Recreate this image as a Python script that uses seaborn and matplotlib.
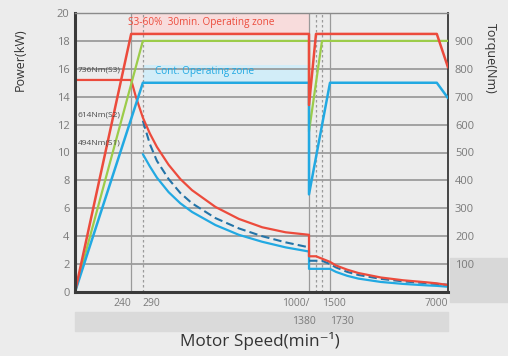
"""Spindle motor power / torque characteristic chart."""
import numpy as np
import matplotlib
matplotlib.use("Agg")
import matplotlib.pyplot as plt
import matplotlib.transforms as mtransforms
from matplotlib.patches import Rectangle
import seaborn as sns

# ---- data ----
speed_p3 = [0, 240, 1000, 1000, 1380, 6500, 7000]
power_s3 = [0, 18.5, 18.5, 13.4, 18.5, 18.5, 16.1]
speed_p2 = [0, 290, 1000, 1000, 1500, 7000]
power_s2 = [0, 18.0, 18.0, 11.5, 18.0, 18.0]
speed_p1 = [0, 290, 1000, 1000, 1730, 6500, 7000]
power_s1 = [0, 15.0, 15.0, 7.0, 15.0, 15.0, 13.9]

speed_t3 = [0, 240, 260, 290, 320, 350, 400, 450, 500, 600, 700, 800, 900, 1000,
            1000, 1380, 1730, 2000, 2500, 3000, 4000, 5000, 6000, 6500, 7000]
torque_s3 = [760, 760, 700, 625, 568, 520, 456, 405, 365, 305, 262, 232, 214, 205,
             128, 128, 108, 95, 80, 68, 52, 42, 35, 31, 25]
speed_t2 = [290, 320, 350, 400, 450, 500, 600, 700, 800, 900, 1000,
            1000, 1500, 1730, 2000, 2500, 3000, 4000, 5000, 6000, 7000]
torque_s2 = [614, 530, 470, 405, 355, 318, 265, 228, 200, 178, 160,
             112, 112, 100, 88, 72, 61, 47, 38, 32, 26]
speed_t1 = [290, 320, 350, 400, 450, 500, 600, 700, 800, 900, 1000,
            1000, 1730, 2000, 2500, 3000, 4000, 5000, 6000, 6500, 7000]
torque_s1 = [494, 450, 410, 358, 318, 287, 240, 205, 180, 160, 145,
             83, 83, 72, 58, 48, 36, 29, 24, 22, 19]

speed_marks = [240, 290, 1000, 1380, 1500, 1730]
xtick_vals = [240, 290, 1000, 1500, 7000]
xtick_text = ["240", "290", "1000/", "1500", "7000"]
xtick_ha = ["right", "left", "right", "left", "right"]
lower_ticks = [1380, 1730]
lower_text = ["1380", "1730"]
lower_ha = ["right", "left"]
torque_notes = ["736Nm(S3)", "614Nm(S2)", "494Nm(S1)"]
note_levels = [15.9, 12.7, 10.7]

RED = "#ec4b3c"
GREEN = "#9ccc4a"
BLUE = "#22a9e2"
DARKBLUE = "#2374a8"
TICK = "#7a7a7a"

# piecewise axis: speed -> horizontal position
KNOT_SPEED = [-1000, 0, 1000, 1380, 1500, 1730, 7000, 20000]
KNOT_POS = [-234, 0, 234, 241, 247, 255, 373, 663]


def fwd(v):
    return np.interp(v, KNOT_SPEED, KNOT_POS)


def inv(p):
    return np.interp(p, KNOT_POS, KNOT_SPEED)


sns.set_style("white")
plt.rcParams["font.family"] = ["Open Sans", "DejaVu Sans"]

fig = plt.figure(figsize=(5.08, 3.56), dpi=100, facecolor="#ececec")
fig.patches.append(Rectangle((75 / 508, 1 - 331 / 356), 373 / 508, 19 / 356,
                             transform=fig.transFigure, color="#dadada", zorder=-1))
fig.patches.append(Rectangle((450 / 508, 1 - 302 / 356), 58 / 508, 44 / 356,
                             transform=fig.transFigure, color="#d8d8d8", zorder=-1))

ax = fig.add_axes([75 / 508, 1 - 292 / 356, 373 / 508, 279 / 356])
ax.set_xscale("function", functions=(fwd, inv))
ax.set_xlim(0, 7000)
ax.set_ylim(0, 20)
ax2 = ax.twinx()
ax2.set_ylim(0, 1000)

# torque axis sits below, power axis on top
ax2.set_zorder(1)
ax.set_zorder(2)
ax.patch.set_visible(False)
ax2.patch.set_facecolor("#f2f0f0")

ax2.set_yticks(range(0, 1001, 100))
ax2.yaxis.grid(True, color="#8e8e8e", lw=1.1)
ax2.set_axisbelow(True)

# operating zone bands
ax2.fill_between([240, 1000], 930, 995, color="#f8dcdc", lw=0, zorder=0.5)
ax2.fill_between([290, 1000], 757, 815, color="#d2edf8", lw=0, zorder=0.5)

for s in speed_marks:
    dotted = s in (290, 1380, 1500)
    ax2.axvline(s, color="#9a9a9a", lw=0.9, ls=(0, (2, 2)) if dotted else "-", zorder=0.8)

# torque curves
sns.lineplot(x=speed_t1, y=torque_s1, ax=ax2, estimator=None, sort=False, color=BLUE, lw=1.6)
sns.lineplot(x=speed_t2, y=torque_s2, ax=ax2, estimator=None, sort=False, color=DARKBLUE,
             lw=1.5, linestyle=(0, (4, 2)))
sns.lineplot(x=speed_t3, y=torque_s3, ax=ax2, estimator=None, sort=False, color=RED, lw=1.6)

# power curves
sns.lineplot(x=speed_p2, y=power_s2, ax=ax, estimator=None, sort=False, color=GREEN, lw=1.6)
sns.lineplot(x=speed_p1, y=power_s1, ax=ax, estimator=None, sort=False, color=BLUE, lw=1.8)
sns.lineplot(x=speed_p3, y=power_s3, ax=ax, estimator=None, sort=False, color=RED, lw=1.8)

ax.text(227, 19.35, "S3-60%  30min. Operating zone", color=RED, fontsize=7.2, va="center")
ax.text(343, 15.8, "Cont. Operating zone", color=BLUE, fontsize=7.2, va="center")
for note, yv in zip(torque_notes, note_levels):
    ax.text(12, yv, note, color="#4a4a4a", fontsize=6, va="center")

# ticks
ax.set_yticks(range(0, 21, 2))
ax.tick_params(axis="y", length=0, pad=4, labelsize=8, labelcolor=TICK)
ax2.set_yticks(range(100, 1000, 100))
ax2.tick_params(axis="y", length=0, pad=5, labelsize=8, labelcolor=TICK)
ax.set_xticks(xtick_vals)
ax.set_xticklabels(xtick_text)
ax.minorticks_off()
ax.tick_params(axis="x", length=0, pad=4, labelsize=7.5, labelcolor=TICK)
for lab, ha in zip(ax.get_xticklabels(), xtick_ha):
    lab.set_ha(ha)
trans = mtransforms.blended_transform_factory(ax.transData, ax.transAxes)
for v, t, ha in zip(lower_ticks, lower_text, lower_ha):
    ax.text(v, -0.086, t, transform=trans, ha=ha, va="top", fontsize=7.5, color=TICK)
ax.set_xlabel("")
ax.set_ylabel("")
ax2.set_ylabel("")

for sp in ["left", "bottom"]:
    ax.spines[sp].set_color("#3a3a3a")
    ax.spines[sp].set_linewidth(2.2)
ax.spines["top"].set_color("#8a8a8a")
ax.spines["top"].set_linewidth(1.0)
ax.spines["right"].set_visible(False)
ax2.spines["right"].set_color("#444444")
ax2.spines["right"].set_linewidth(1.4)
for sp in ["left", "bottom", "top"]:
    ax2.spines[sp].set_visible(False)

fig.text(20 / 508, 1 - 60 / 356, "Power(kW)", rotation=90, ha="center", va="center",
         fontsize=9, color="#333333")
fig.text(490 / 508, 1 - 58 / 356, "Torque(Nm)", rotation=270, ha="center", va="center",
         fontsize=9, color="#333333")
fig.text(260 / 508, 1 - 341 / 356, "Motor Speed(min⁻¹)", ha="center", va="center",
         fontsize=12.3, color="#333333")

fig.savefig("out.png", dpi=100, facecolor=fig.get_facecolor())
